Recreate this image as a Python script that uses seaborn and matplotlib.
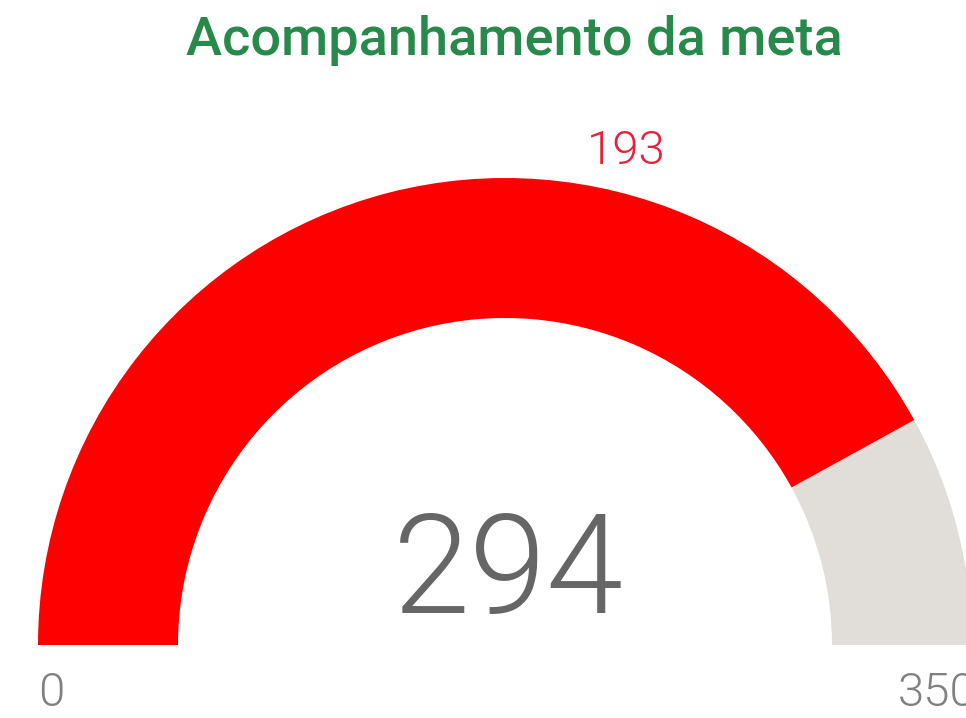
import numpy as np
import matplotlib
matplotlib.use('Agg')
import matplotlib.pyplot as plt
from matplotlib.patches import Wedge
import seaborn as sns

# gauge data
title = 'Acompanhamento da meta'
value = 294
target = 193
gauge_min = 0
gauge_max = 350

sns.set_theme(style='white')
plt.rcParams['font.family'] = ['Roboto', 'DejaVu Sans']

fig = plt.figure(figsize=(9.66, 7.18), dpi=100)
ax = fig.add_axes([0, 0, 1, 1])
ax.set_xlim(0, 966)
ax.set_ylim(0, 718)
ax.set_aspect('equal')
ax.axis('off')

cx, cy = 505, 73
r_out, r_in = 467, 327


def to_angle(v):
    return 180 * (1 - (v - gauge_min) / (gauge_max - gauge_min))


a_val = to_angle(value)
ax.add_patch(Wedge((cx, cy), r_out, 0, a_val, width=r_out - r_in,
                   facecolor='#e1ddd8', edgecolor='none'))
ax.add_patch(Wedge((cx, cy), r_out, a_val, 180, width=r_out - r_in,
                   facecolor='#ff0000', edgecolor='none'))

# target label
a_t = np.deg2rad(to_angle(target))
ax.text(cx + np.cos(a_t) * 495 + 2, cy + np.sin(a_t) * 495 + 5, str(target),
        color='#e8203a', fontsize=34, fontweight=300, ha='left', va='center')

# value in the middle
ax.text(cx + 3, 143, str(value), color='#666666', fontsize=100,
        fontweight=300, ha='center', va='center')

# min / max labels
ax.text(cx - r_out, 25, str(gauge_min), color='#808080', fontsize=34,
        fontweight=300, ha='left', va='center')
ax.text(cx + r_out + 4, 25, str(gauge_max), color='#808080', fontsize=34,
        fontweight=300, ha='right', va='center')

fig.text(0.532, 0.944, title, color='#27894a', fontsize=39,
         fontweight='medium', ha='center', va='center')

fig.savefig('out.png', dpi=100, facecolor='white')
